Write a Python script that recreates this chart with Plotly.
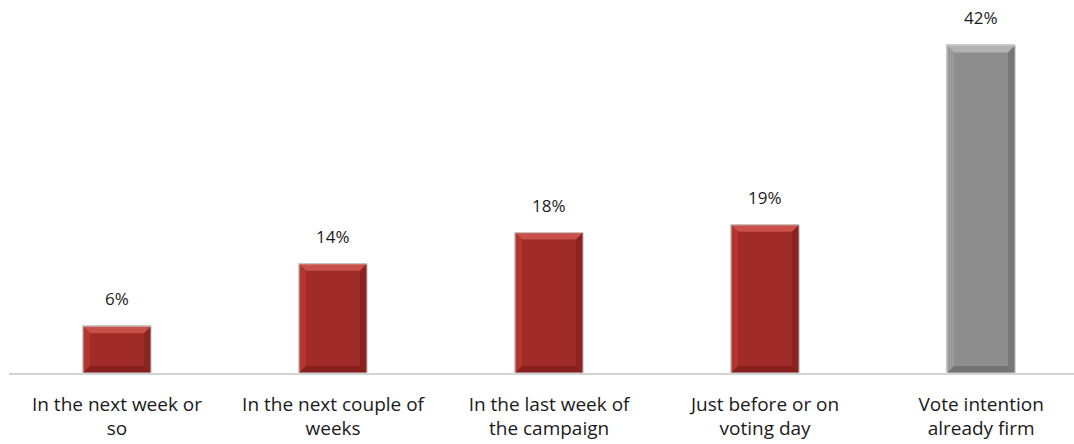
import plotly.graph_objects as go

# Survey: when respondents expect to make their final vote decision
categories = [
    "In the next week or<br>so",
    "In the next couple of<br>weeks",
    "In the last week of<br>the campaign",
    "Just before or on<br>voting day",
    "Vote intention<br>already firm",
]
values = [6, 14, 18, 19, 42]
bar_kinds = ["red", "red", "red", "red", "grey"]

palette = {
    "red": {"face": "#A12B27", "top": "#C9514A", "left": "#B0362F",
            "right": "#8B231F", "bottom": "#86211D"},
    "grey": {"face": "#8D8D8D", "top": "#B2B2B2", "left": "#9A9A9A",
             "right": "#777777", "bottom": "#737373"},
}

FONT = "'Open Sans', Lato, sans-serif"
BAR_W = 0.315
PX_PER_X = 216.0      # horizontal pixels per category
PX_PER_Y = 7.8        # vertical pixels per percentage point
BEVEL_PX = 7

xs = list(range(len(values)))

fig = go.Figure()
fig.add_trace(go.Bar(
    x=xs, y=values, width=BAR_W,
    marker=dict(color=[palette[k]["face"] for k in bar_kinds],
                line=dict(color="#C9C9C9", width=1)),
    hoverinfo="skip",
))

# Bevelled edges drawn as trapezoids around each bar
shapes = []
bx = BEVEL_PX / PX_PER_X
by = BEVEL_PX / PX_PER_Y
for i, v, k in zip(xs, values, bar_kinds):
    c = palette[k]
    x0, x1 = i - BAR_W / 2, i + BAR_W / 2
    quads = {
        "top": [(x0, v), (x1, v), (x1 - bx, v - by), (x0 + bx, v - by)],
        "left": [(x0, 0), (x0, v), (x0 + bx, v - by), (x0 + bx, by)],
        "right": [(x1, 0), (x1, v), (x1 - bx, v - by), (x1 - bx, by)],
        "bottom": [(x0, 0), (x1, 0), (x1 - bx, by), (x0 + bx, by)],
    }
    for side, pts in quads.items():
        path = "M " + " L ".join(f"{px},{py}" for px, py in pts) + " Z"
        shapes.append(dict(type="path", path=path, xref="x", yref="y",
                           fillcolor=c[side], line=dict(width=0), layer="above"))
    # thin outline on top of the bevels
    shapes.append(dict(type="rect", xref="x", yref="y", x0=x0, x1=x1, y0=0, y1=v,
                       line=dict(color="#C9C9C9", width=1), fillcolor="rgba(0,0,0,0)",
                       layer="above"))

annotations = [
    dict(x=i, y=v, text=f"{v}%", xref="x", yref="y", showarrow=False,
         yanchor="bottom", yshift=14, font=dict(family=FONT, size=17, color="#1a1a1a"))
    for i, v in zip(xs, values)
]

fig.update_layout(
    width=1074, height=444,
    margin=dict(l=9, r=0, t=22, b=71),
    paper_bgcolor="white", plot_bgcolor="white",
    showlegend=False,
    shapes=shapes,
    annotations=annotations,
    xaxis=dict(
        tickmode="array", tickvals=xs, ticktext=categories,
        range=[-0.5, 4.43], showgrid=False, zeroline=False,
        showline=True, linecolor="#D4D4D4", linewidth=1.5,
        ticks="", ticklabelstandoff=13, automargin=False,
        tickfont=dict(family=FONT, size=19, color="#1a1a1a"),
    ),
    yaxis=dict(range=[0, 45.0], visible=False, showgrid=False, zeroline=False,
               automargin=False),
    bargap=0,
)

fig.write_html("out.html")
